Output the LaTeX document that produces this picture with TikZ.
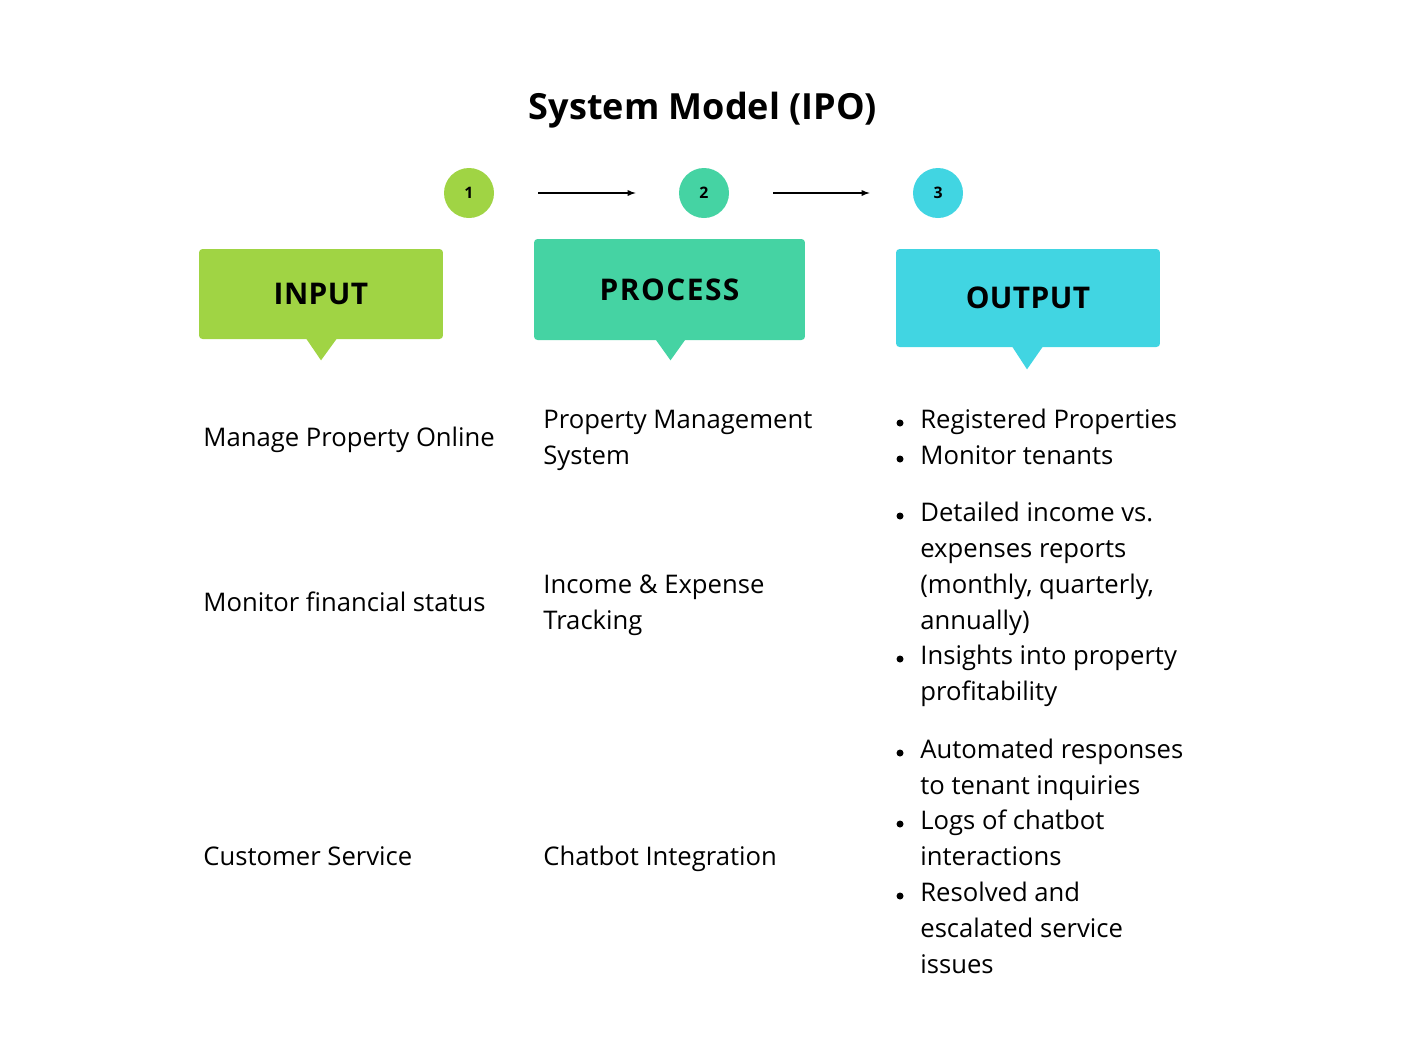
\documentclass[tikz,border=0pt]{standalone}
\usepackage{fontspec}
\setmainfont{Open Sans}
\usetikzlibrary{calc}

\definecolor{ipoGreen}{RGB}{160,212,68}
\definecolor{ipoTeal}{RGB}{69,211,163}
\definecolor{ipoCyan}{RGB}{65,213,226}

\begin{document}
\begin{tikzpicture}[x=0.02cm, y=-0.02cm,
  headbox/.style={rounded corners=2pt, inner sep=0pt, font=\fontsize{17}{20}\bfseries\selectfont},
  stepdot/.style={circle, minimum size=1cm, inner sep=0pt, font=\fontsize{9}{11}\bfseries\selectfont},
  flow/.style={-latex, line width=0.6pt, shorten <=0.88cm, shorten >=0.86cm},
  body/.style={anchor=base west, align=left, inner sep=0pt, font=\fontsize{14.6}{20.4}\selectfont},
  dot/.style={circle, fill=black, minimum size=0.14cm, inner sep=0pt}]
  \useasboundingbox (0,0) rectangle (1408,1056);

  % title
  \node[font=\fontsize{20.5}{25}\bfseries\selectfont] (title) at (703,110) {System Model (IPO)};

  % steps 1 -> 2 -> 3
  \node[stepdot, fill=ipoGreen] (s1) at (469,193) {1};
  \node[stepdot, fill=ipoTeal]  (s2) at (704,193) {2};
  \node[stepdot, fill=ipoCyan]  (s3) at (938,193) {3};
  \draw[flow] (s1) -- (s2);
  \draw[flow] (s2) -- (s3);

  % column heads
  \node[headbox, fill=ipoGreen, minimum width=4.88cm, minimum height=1.8cm]  (input)   at (321,294)   {\addfontfeature{LetterSpace=1.5}INPUT};
  \node[headbox, fill=ipoTeal,  minimum width=5.42cm, minimum height=2.02cm] (process) at (669.5,289.5) {\addfontfeature{LetterSpace=5}PROCESS};
  \node[headbox, fill=ipoCyan,  minimum width=5.28cm, minimum height=1.96cm] (output)  at (1028,298)  {\addfontfeature{LetterSpace=1.5}OUTPUT};
  % pointers under the heads
  \fill[ipoGreen] ($(input.south)+(-15,-1)$) -- ($(input.south)+(0,21)$) -- ($(input.south)+(16,-1)$) -- cycle;
  \fill[ipoTeal] ($(process.south)+(-14,-1)$) -- ($(process.south)+(1,20)$) -- ($(process.south)+(16,-1)$) -- cycle;
  \fill[ipoCyan] ($(output.south)+(-16,-1)$) -- ($(output.south)+(-1,22)$) -- ($(output.south)+(15,-1)$) -- cycle;

  % input column (base = last line)
  \node[body] (in1) at (203,446) {Manage Property Online};
  \node[body] (in2) at (203,611) {Monitor financial status};
  \node[body] (in3) at (203,865) {Customer Service};

  % process column
  \node[body] (pr1) at (543,464) {Property Management\\System};
  \node[body] (pr2) at (543,629) {Income \& Expense\\Tracking};
  \node[body] (pr3) at (543,865) {Chatbot Integration};

  % output column
  \node[body] (out1) at (920,428) {Registered Properties};
  \node[body] (out2) at (920,464) {Monitor tenants};
  \node[body] (out3) at (920,629) {Detailed income vs.\\expenses reports\\(monthly, quarterly,\\annually)};
  \node[body] (out4) at (920,700) {Insights into property\\profitability};
  \node[body] (out5) at (920,794) {Automated responses\\to tenant inquiries};
  \node[body] (out6) at (920,865) {Logs of chatbot\\interactions};
  \node[body] (out7) at (920,973) {Resolved and\\escalated service\\issues};
  \foreach \i/\y in {1/428, 2/464, 3/521, 4/664, 5/758, 6/829, 7/901}
    \node[dot] (bul\i) at (900,\y-5) {};
\end{tikzpicture}
\end{document}
